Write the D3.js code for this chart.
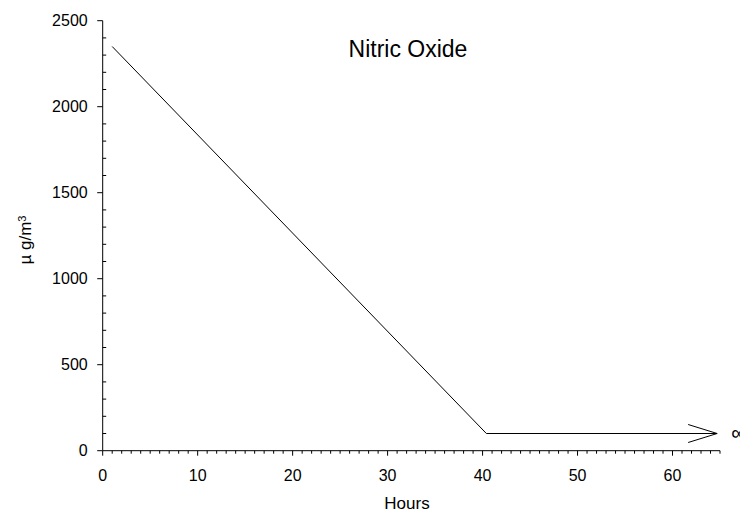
<!DOCTYPE html>
<html><head><meta charset="utf-8">
<script src="https://cdn.jsdelivr.net/npm/d3@7"></script>
<style>body{margin:0;background:#fff}svg{display:block}text{font-family:"Liberation Sans",Arial,sans-serif;fill:#000}</style>
</head><body><svg id="c" width="740" height="518"></svg>
<script>
const hours = [1, 40.4, 64.7];
const conc = [2350, 100, 100];
const xTicks = [0, 10, 20, 30, 40, 50, 60];
const yTicks = [0, 500, 1000, 1500, 2000, 2500];
const title = "Nitric Oxide";
const xLabel = "Hours";
const yLabel = "µ g/m";
const infinityLabel = "∞";

const svg = d3.select("#c");
const x = d3.scaleLinear().domain([0, 65]).range([102.7, 720]);
const y = d3.scaleLinear().domain([0, 2500]).range([450.7, 20.7]);

// x axis
const gx = svg.append("g").attr("transform", `translate(0,${y(0)})`);
gx.append("line").attr("x1", x(0)).attr("x2", x(65)).attr("stroke", "#000");
gx.selectAll(".tk").data(d3.range(0, 66, 1)).join("line")
  .attr("x1", d => x(d)).attr("x2", d => x(d)).attr("y1", 0).attr("y2", d => d % 10 === 0 ? 5 : 3)
  .attr("stroke", "#000");
gx.selectAll("text").data(xTicks).join("text")
  .attr("x", d => x(d)).attr("y", 30.5).attr("text-anchor", "middle").attr("font-size", 16).text(d => d);

// y axis
const gy = svg.append("g").attr("transform", `translate(${x(0)},0)`);
gy.append("line").attr("y1", y(0)).attr("y2", y(2500)).attr("stroke", "#000");
gy.selectAll(".tk").data(d3.range(0, 2501, 100)).join("line")
  .attr("y1", d => y(d)).attr("y2", d => y(d)).attr("x1", 0).attr("x2", d => d % 500 === 0 ? -5.5 : 3.5)
  .attr("stroke", "#000");
gy.selectAll("text").data(yTicks).join("text")
  .attr("x", -15).attr("y", d => y(d)).attr("dy", "0.36em").attr("text-anchor", "end").attr("font-size", 16).text(d => d);

// data line
const line = d3.line().x((d, i) => x(hours[i])).y(d => y(d));
svg.append("path").attr("d", line(conc)).attr("fill", "none").attr("stroke", "#000").attr("stroke-width", 1);

// open arrowhead at end
const tipX = x(hours[2]), tipY = y(conc[2]);
svg.append("path").attr("d", `M${tipX - 29},${tipY - 9}L${tipX},${tipY}L${tipX - 29},${tipY + 9}`)
  .attr("fill", "none").attr("stroke", "#000");
svg.append("text").attr("x", tipX + 14).attr("y", tipY).attr("dy", "0.3em").attr("font-size", 21).text(infinityLabel);

// titles
svg.append("text").attr("x", 408).attr("y", 57).attr("text-anchor", "middle").attr("font-size", 23).text(title);
svg.append("text").attr("x", 407).attr("y", 509).attr("text-anchor", "middle").attr("font-size", 17).text(xLabel);
const yl = svg.append("text").attr("transform", "translate(31,240) rotate(-90)").attr("text-anchor", "middle").attr("font-size", 17);
yl.append("tspan").text(yLabel);
yl.append("tspan").attr("dy", "-0.45em").attr("font-size", 11).text("3");
</script></body></html>
